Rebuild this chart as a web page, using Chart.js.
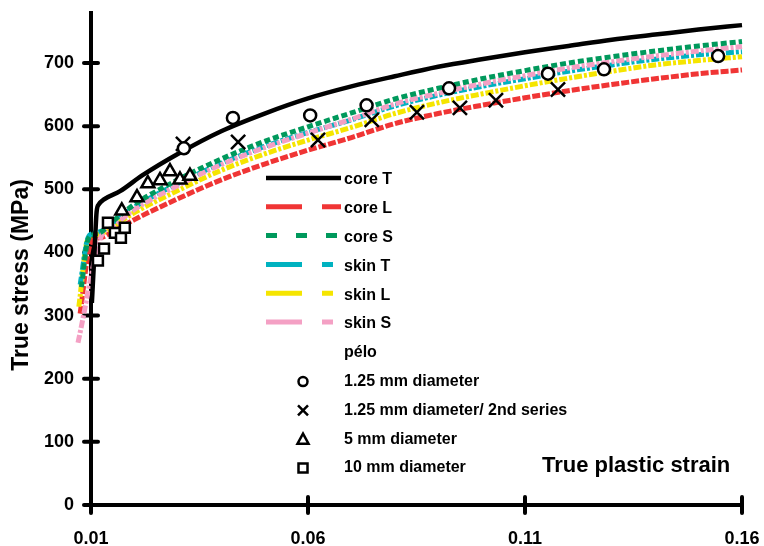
<!DOCTYPE html>
<html>
<head>
<meta charset="utf-8">
<script src="https://cdn.jsdelivr.net/npm/chart.js@4.4.1/dist/chart.umd.min.js"></script>
<style>
  body{margin:0;background:#fff;}
  #wrap{width:764px;height:546px;position:relative;}
</style>
</head>
<body>
<div id="wrap"><canvas id="chartStress"></canvas></div>
<script>
// true plastic strain vs true stress (MPa)
const xTicks = [0.01, 0.06, 0.11, 0.16];
const yTicks = [0, 100, 200, 300, 400, 500, 600, 700];
const xMin = 0.01, xMax = 0.16, yMin = 0, yMax = 780;

const gridStrain = [0.0125, 0.015, 0.02, 0.03, 0.04, 0.05, 0.06, 0.07, 0.08, 0.09, 0.10, 0.11, 0.12, 0.13, 0.14, 0.15, 0.16];

const coreTStrain = [0.0102, 0.0108, 0.0113, 0.0118, 0.013, 0.0167, 0.0218, 0.0305, 0.04, 0.05, 0.06, 0.07, 0.08, 0.09, 0.10, 0.11, 0.12, 0.13, 0.14, 0.15, 0.16];
const coreTStress = [320, 400, 465, 476, 484, 497, 522, 558, 592, 620, 644, 663, 679, 694, 706, 717, 727, 737, 745, 753, 760];

const coreLStrain = [0.0075, 0.0095, 0.0105, ...gridStrain];
const coreLStress = [303, 405, 420, 424, 433, 452, 485, 515, 540, 562, 582, 604, 620, 633, 645, 656, 666, 675, 683, 689];

const coreSStrain = [0.0078, 0.0093, 0.0105, ...gridStrain];
const coreSStress = [345, 420, 428, 433, 449, 476, 515, 548, 576, 599, 621, 643, 660, 675, 688, 700, 710, 719, 727, 734];

const skinTStrain = [0.0075, 0.0093, 0.0105, ...gridStrain];
const skinTStress = [349, 423, 430, 434, 447, 472, 509, 541, 568, 590, 610, 632, 649, 663, 675, 687, 697, 706, 713, 718];

const skinLStrain = [0.0072, 0.0092, 0.0105, ...gridStrain];
const skinLStress = [314, 420, 427, 430, 441, 463, 498, 530, 556, 578, 598, 620, 637, 651, 664, 676, 687, 697, 704, 710];

const skinSStrain = [0.0070, ...gridStrain];
const skinSStress = [257, 428, 442, 468, 506, 539, 566, 589, 611, 635, 652, 667, 680, 692, 702, 711, 719, 726];

// pélo measurements
const d125Strain = [0.0314, 0.0427, 0.0605, 0.0735, 0.0925, 0.1153, 0.1282, 0.1545];
const d125Stress = [565, 613, 617, 633, 660, 683, 690, 711];
const d125bStrain = [0.0312, 0.0439, 0.0623, 0.0747, 0.0851, 0.0950, 0.1033, 0.1176];
const d125bStress = [572, 575, 578, 610, 622, 629, 641, 658];
const d5Strain = [0.0171, 0.0206, 0.0231, 0.0259, 0.0282, 0.0305, 0.0328];
const d5Stress = [466, 487, 509, 514, 528, 515, 521];
const d10Strain = [0.0116, 0.0130, 0.0139, 0.0155, 0.0169, 0.0178];
const d10Stress = [387, 406, 447, 431, 423, 439];

const peloTitle = 'pélo';

function pts(xs, ys){
  return xs.map((v, i) => ({x: v, y: ys[i]}));
}

function garis(label, xs, ys, color, dash, legendDash, order, width){
  return {
    label: label, data: pts(xs, ys),
    borderColor: color, borderWidth: width || 5, borderDash: dash,
    legendDash: legendDash, pointRadius: 0, fill: false,
    cubicInterpolationMode: 'monotone', clip: false, order: order
  };
}

function titik(label, xs, ys, style, radius){
  return {
    label: label, data: pts(xs, ys), showLine: false,
    pointStyle: style, pointRadius: radius, pointHoverRadius: radius,
    pointBackgroundColor: '#fff', pointBorderColor: '#000', pointBorderWidth: 2.5,
    clip: false, order: 0
  };
}

const lineSets = [
  garis('core T', coreTStrain, coreTStress, '#000000', [], [], 1, 4.5),
  garis('core L', coreLStrain, coreLStress, '#f03535', [8, 2], [36, 20], 6),
  garis('core S', coreSStrain, coreSStress, '#00995c', [6, 3], [11, 19], 2),
  garis('skin T', skinTStrain, skinTStress, '#00b2c0', [8, 2, 3, 2], [36, 20, 11, 20], 4),
  garis('skin L', skinLStrain, skinLStress, '#f5e500', [8, 2, 3, 2], [36, 20, 11, 20], 5),
  garis('skin S', skinSStrain, skinSStress, '#f4a0c4', [8, 2, 3, 2], [36, 20, 11, 20], 3)
];
const markSets = [
  titik('1.25 mm diameter', d125Strain, d125Stress, 'circle', 6),
  titik('1.25 mm diameter/ 2nd series', d125bStrain, d125bStress, 'crossRot', 10),
  titik('5 mm diameter', d5Strain, d5Stress, 'triangle', 7.5),
  titik('10 mm diameter', d10Strain, d10Stress, 'rect', 7)
];

const FONT = '"Liberation Sans", Arial, Helvetica, sans-serif';

// crossing tick marks on both axes
const crossTicks = {
  id: 'crossTicks',
  beforeDatasetsDraw(chart){
    const {ctx, chartArea, scales} = chart;
    ctx.save();
    ctx.strokeStyle = '#000';
    ctx.lineWidth = 4;
    ctx.lineCap = 'round';
    xTicks.forEach(v => {
      const px = scales.x.getPixelForValue(v);
      ctx.beginPath();
      ctx.moveTo(px, chartArea.bottom - 8);
      ctx.lineTo(px, chartArea.bottom + 8);
      ctx.stroke();
    });
    yTicks.forEach(v => {
      const py = scales.y.getPixelForValue(v);
      ctx.beginPath();
      ctx.moveTo(chartArea.left - 7, py);
      ctx.lineTo(chartArea.left + 7, py);
      ctx.stroke();
    });
    ctx.restore();
  }
};

function simbol(ctx, style, x, y){
  ctx.beginPath();
  if(style === 'circle'){
    ctx.arc(x, y, 4.5, 0, Math.PI * 2);
  } else if(style === 'crossRot'){
    ctx.moveTo(x - 5, y - 5); ctx.lineTo(x + 5, y + 5);
    ctx.moveTo(x + 5, y - 5); ctx.lineTo(x - 5, y + 5);
  } else if(style === 'triangle'){
    ctx.moveTo(x, y - 5.5); ctx.lineTo(x + 5.5, y + 4.5); ctx.lineTo(x - 5.5, y + 4.5); ctx.closePath();
  } else {
    ctx.rect(x - 4.5, y - 4.5, 9, 9);
  }
  ctx.fillStyle = '#fff';
  if(style !== 'crossRot') ctx.fill();
  ctx.stroke();
}

// legend inside the plot + axis titles
const legendaDalam = {
  id: 'legendaDalam',
  afterDraw(chart){
    const ctx = chart.ctx;
    const x0 = 266, x1 = 341, tx = 344, y0 = 180, step = 28.8;
    ctx.save();
    ctx.font = 'bold 16px ' + FONT;
    ctx.textBaseline = 'middle';
    ctx.textAlign = 'left';
    let row = 0;
    lineSets.forEach(ds => {
      const y = y0 + row * step;
      ctx.strokeStyle = ds.borderColor;
      ctx.lineWidth = ds.borderWidth;
      ctx.setLineDash(ds.legendDash);
      ctx.beginPath();
      ctx.moveTo(x0, y - 2);
      ctx.lineTo(x1, y - 2);
      ctx.stroke();
      ctx.setLineDash([]);
      ctx.fillStyle = '#000';
      ctx.fillText(ds.label, tx, y);
      row++;
    });
    ctx.fillStyle = '#000';
    ctx.fillText(peloTitle, tx, y0 + row * step);
    row++;
    markSets.forEach(ds => {
      const y = y0 + row * step;
      ctx.strokeStyle = '#000';
      ctx.lineWidth = 2.5;
      simbol(ctx, ds.pointStyle, 303, y);
      ctx.fillStyle = '#000';
      ctx.fillText(ds.label, tx, y);
      row++;
    });
    ctx.font = 'bold 22px ' + FONT;
    ctx.fillText('True plastic strain', 542, 466);
    // y axis title
    ctx.font = 'bold 23px ' + FONT;
    ctx.textAlign = 'center';
    ctx.translate(22, 275);
    ctx.rotate(-Math.PI / 2);
    ctx.fillText('True stress (MPa)', 0, 0);
    ctx.restore();
  }
};

new Chart(document.getElementById('chartStress'), {
  type: 'line',
  data: { datasets: [...markSets, ...lineSets] },
  options: {
    responsive: true,
    maintainAspectRatio: false,
    animation: false,
    layout: { padding: { top: 12, right: 22, left: 0, bottom: 0 } },
    plugins: { legend: { display: false }, tooltip: { enabled: false } },
    scales: {
      x: {
        type: 'linear', bounds: 'data',
        afterDataLimits: s => { s.min = xMin; s.max = xMax; },
        afterBuildTicks: s => { s.ticks = xTicks.map(v => ({value: v})); s.min = xMin; s.max = xMax; },
        afterFit: s => { s.height = 41; s.paddingLeft = 0; s.paddingRight = 0; },
        grid: { display: false, drawTicks: false },
        border: { color: '#000', width: 4 },
        ticks: { color: '#000', padding: 23, font: { family: FONT, size: 18, weight: 'bold' },
                 callback: v => v.toFixed(2) }
      },
      y: {
        type: 'linear', bounds: 'data',
        afterDataLimits: s => { s.min = yMin; s.max = yMax; },
        afterBuildTicks: s => { s.ticks = yTicks.map(v => ({value: v})); s.min = yMin; s.max = yMax; },
        afterFit: s => { s.width = 91; s.paddingTop = 0; s.paddingBottom = 0; },
        grid: { display: false, drawTicks: false },
        border: { color: '#000', width: 4 },
        ticks: { color: '#000', padding: 17, font: { family: FONT, size: 18, weight: 'bold' } }
      }
    }
  },
  plugins: [crossTicks, legendaDalam]
});
</script>
</body>
</html>
